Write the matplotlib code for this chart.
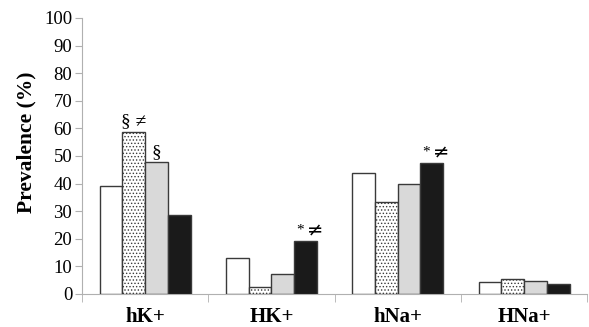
import numpy as np
import matplotlib.pyplot as plt

categories = ["hK+", "HK+", "hNa+", "HNa+"]
white_vals = [39, 13, 44, 4.2]
dotted_vals = [58.7, 2.5, 33.3, 5.5]
gray_vals = [47.8, 7.3, 40, 4.6]
black_vals = [28.7, 19.3, 47.6, 3.5]

# annotations: (series index, category index, text)
marks = [(1, 0, "§ ≠"), (2, 0, "§"), (3, 1, "* ≠"), (3, 2, "* ≠")]

plt.rcParams['font.family'] = ['Liberation Serif', 'DejaVu Serif']
plt.rcParams['hatch.linewidth'] = 0.6

fig = plt.figure(figsize=(5.89, 3.27), dpi=100)
ax = fig.add_axes([0.139, 0.101, 0.858, 0.844])

x = np.arange(len(categories))
w = 0.18
series = [white_vals, dotted_vals, gray_vals, black_vals]
styles = [
    dict(color="white", hatch=None),
    dict(color="white", hatch="....."),
    dict(color="#d9d9d9", hatch=None),
    dict(color="#1a1a1a", hatch=None),
]
offsets = (np.arange(4) - 1.5) * w
for i, (vals, st) in enumerate(zip(series, styles)):
    ax.bar(x + offsets[i], vals, width=w, color=st["color"], hatch=st["hatch"],
           edgecolor="#3a3a3a", linewidth=1.0, zorder=3)

for si, ci, txt in marks:
    v = series[si][ci]
    bx = x[ci] + offsets[si]
    if txt.startswith("*"):
        # small star, then the not-equal sign
        ax.annotate("*", (bx, v), xytext=(-4, 3), textcoords="offset points",
                    ha="center", va="bottom", fontsize=11)
        ax.annotate("≠", (bx, v), xytext=(7, 1), textcoords="offset points",
                    ha="center", va="bottom", fontsize=14, family=['DejaVu Sans'])
    else:
        ax.annotate(txt, (bx, v), xytext=(0, 1), textcoords="offset points",
                    ha="center", va="bottom", fontsize=14)

ax.set_xlim(-0.5, 3.5)
ax.set_ylim(0, 100)
ax.set_yticks(np.arange(0, 101, 10))
ax.set_xticks(x)
ax.set_xticklabels(categories, fontsize=15, fontweight="bold")
ax.set_xticks(np.arange(-0.5, 3.6, 1), minor=True)
ax.tick_params(axis="x", which="major", length=0, pad=9.5)
ax.tick_params(axis="x", which="minor", length=6, color="#b0b0b0")
ax.tick_params(axis="y", labelsize=13.5, length=5, color="#b0b0b0", pad=2)
for s in ["top", "right"]:
    ax.spines[s].set_visible(False)
for s in ["left", "bottom"]:
    ax.spines[s].set_color("#b0b0b0")
ax.set_ylabel("Prevalence (%)", fontsize=15.5, fontweight="bold")
ax.yaxis.set_label_coords(-0.09, 0.55)

fig.savefig("out.png", dpi=100)
